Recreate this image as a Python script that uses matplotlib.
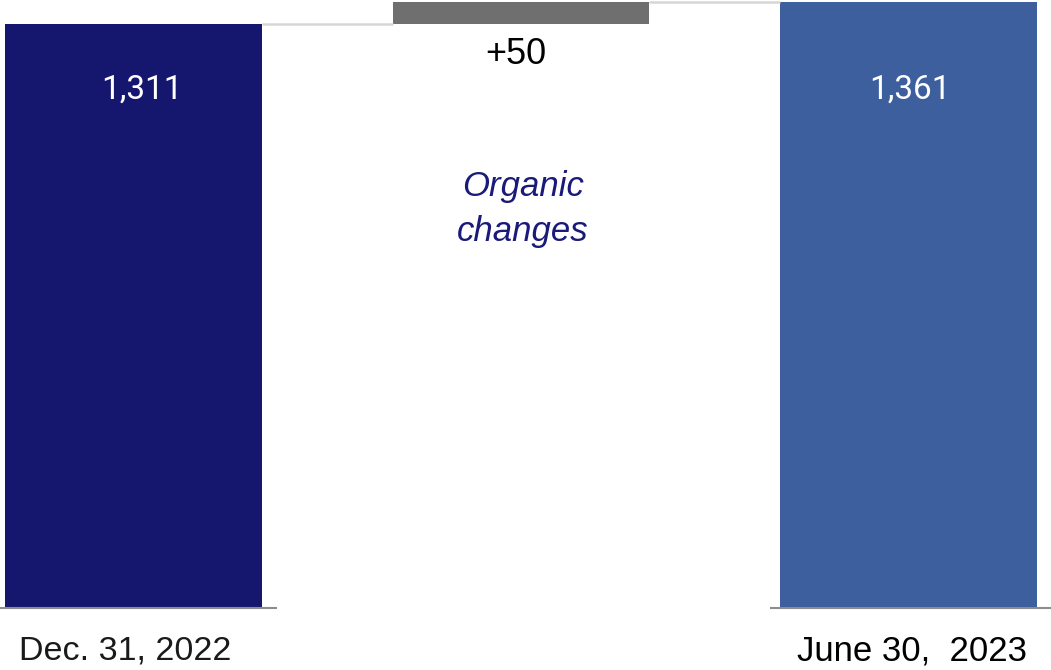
import matplotlib.pyplot as plt
from matplotlib import transforms

plt.rcParams['font.family'] = ['Liberation Sans', 'DejaVu Sans']

# data
labels = ['Dec. 31, 2022', '', 'June 30,  2023']
start_value = 1311
change_value = 50
end_value = 1361
value_texts = ['1,311', '+50', '1,361']
middle_note = 'Organic\nchanges'

colors = ['#15166e', '#6f6f6f', '#3d5f9e']
floor = -47  # bars are drawn from a truncated base
width = 0.663
narrow = ['Roboto', 'DejaVu Sans']

fig = plt.figure(figsize=(10.51, 6.70), dpi=100)
ax = fig.add_axes([0, 62 / 670, 1, 608 / 670])

x = [0, 1, 2]
ax.bar(x[0], start_value - floor, bottom=floor, width=width, color=colors[0])
ax.bar(x[1], change_value, bottom=start_value, width=width, color=colors[1])
ax.bar(x[2], end_value - floor, bottom=floor, width=width, color=colors[2])

# connectors
ax.plot([x[0] + width / 2, x[1] - width / 2], [start_value, start_value],
        color='#d6d6d6', lw=1.8, solid_capstyle='butt')
ax.plot([x[1] + width / 2, x[2] - width / 2], [end_value, end_value],
        color='#d6d6d6', lw=1.8, solid_capstyle='butt')

# baseline pieces
ax.plot([-0.36, x[0] + width / 2 + 0.04], [floor, floor], color='#8c8c8c', lw=1.5,
        solid_capstyle='butt', clip_on=False)
ax.plot([x[2] - width / 2 - 0.025, 2.4], [floor, floor], color='#8c8c8c', lw=1.5,
        solid_capstyle='butt', clip_on=False)

ax.set_xlim(-0.3445, 2.368)
ax.set_ylim(floor, 1366.8)
ax.axis('off')

# value labels
ax.text(x[0] + 0.023, 1158, value_texts[0], color='white', fontsize=24,
        family=narrow, ha='center', va='center')
ax.text(x[2] + 0.005, 1158, value_texts[2], color='white', fontsize=24,
        family=narrow, ha='center', va='center')
ax.text(x[1] - 0.012, 1239, value_texts[1], color='black', fontsize=26,
        ha='center', va='center')
ax.text(x[1] + 0.005, 880, middle_note, color='#1a1a7a', fontsize=25,
        style='italic', ha='center', va='center', linespacing=1.45)

# category labels
trans = transforms.blended_transform_factory(ax.transData, ax.transAxes)
ax.text(x[0] - 0.022, -0.07, labels[0], color='#1a1a1a', fontsize=24.5,
        ha='center', va='center', transform=trans)
ax.text(x[2] + 0.008, -0.07, labels[2], color='black', fontsize=25,
        ha='center', va='center', transform=trans)

fig.savefig('out.png', dpi=100)
